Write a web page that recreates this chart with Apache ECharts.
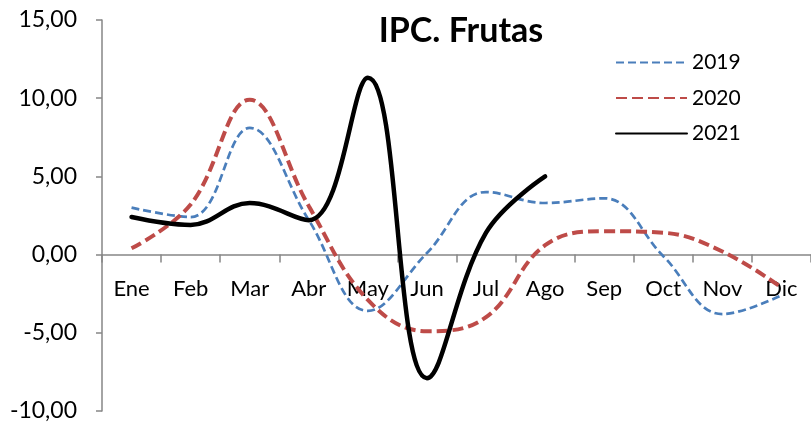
<!DOCTYPE html>
<html>
<head>
<meta charset="utf-8">
<script src="https://cdn.jsdelivr.net/npm/echarts@6/dist/echarts.min.js"></script>
<style>
  html, body { margin: 0; padding: 0; background: #fff; }
  #chart { width: 811px; height: 422px; }
</style>
</head>
<body>
<div id="chart"></div>
<script>
// datos
const meses = ['Ene', 'Feb', 'Mar', 'Abr', 'May', 'Jun', 'Jul', 'Ago', 'Sep', 'Oct', 'Nov', 'Dic'];
const ipc2019 = [3.0, 2.4, 8.1, 2.2, -3.6, 0.1, 4.0, 3.3, 3.6, -0.1, -3.8, -2.6];
const ipc2020 = [0.4, 3.2, 9.9, 3.1, -2.9, -4.9, -4.0, 0.6, 1.5, 1.4, 0.2, -2.1];
const ipc2021 = [2.4, 1.9, 3.3, 2.2, 11.3, -7.9, 1.4, 5.0];
const yTicks = [-10, -5, 0, 5, 10, 15];

const fontFamily = 'Lato, "Open Sans", sans-serif';
const axisGray = '#868686';

const gridTop = 20;
const gridBottom = 11;
const plotHeight = 422 - gridTop - gridBottom;
// el eje x va sobre el cero: se desplaza desde el borde inferior
const yMin = yTicks[0];
const yMax = yTicks[yTicks.length - 1];
const zeroOffset = -plotHeight * (0 - yMin) / (yMax - yMin);

const chart = echarts.init(document.getElementById('chart'));

chart.setOption({
  backgroundColor: '#fff',
  animation: false,
  textStyle: { fontFamily },
  title: {
    text: 'IPC. Frutas',
    left: 456,
    top: 9,
    textAlign: 'center',
    textStyle: { fontSize: 34, fontWeight: 'bold', color: '#000', fontFamily },
  },
  legend: {
    orient: 'vertical',
    left: 610,
    top: 47,
    itemWidth: 71,
    itemHeight: 22,
    itemGap: 14.5,
    itemStyle: { opacity: 0 },
    textStyle: { fontSize: 21, color: '#000', fontFamily },
    data: ['2019', '2020', '2021'],
  },
  grid: { left: 102, right: 0, top: gridTop, bottom: gridBottom, containLabel: false, outerBoundsMode: 'none' },
  xAxis: {
    type: 'category',
    data: meses,
    boundaryGap: true,
    position: 'bottom',
    offset: zeroOffset,
    axisLine: { onZero: false, lineStyle: { color: axisGray, width: 1.5 } },
    axisTick: { show: true, length: 8, inside: false, lineStyle: { color: axisGray, width: 1.5 } },
    axisLabel: { color: '#000', fontSize: 22, margin: 23, fontFamily },
    splitLine: { show: false },
  },
  yAxis: {
    type: 'value',
    min: yMin,
    max: yMax,
    interval: 5,
    axisLine: { show: true, lineStyle: { color: axisGray, width: 1.5 } },
    axisTick: { show: true, length: 6, lineStyle: { color: axisGray, width: 1.5 } },
    axisLabel: {
      color: '#000',
      fontSize: 23,
      margin: 25,
      fontFamily,
      formatter: (v) => v.toFixed(2).replace('.', ','),
    },
    splitLine: { show: false },
  },
  series: [
    {
      name: '2019',
      type: 'line',
      smooth: 0.4,
      symbol: 'none',
      lineStyle: { color: '#4a7ebb', width: 2.7, type: [8, 4] },
      itemStyle: { color: '#4a7ebb' },
      data: ipc2019,
      z: 2,
    },
    {
      name: '2020',
      type: 'line',
      smooth: 0.4,
      symbol: 'none',
      lineStyle: { color: '#be4b48', width: 4, type: [11, 5] },
      itemStyle: { color: '#be4b48' },
      data: ipc2020,
      z: 3,
    },
    {
      name: '2021',
      type: 'line',
      smooth: 0.4,
      symbol: 'none',
      lineStyle: { color: '#000', width: 4.5, cap: 'round' },
      itemStyle: { color: '#000' },
      data: ipc2021,
      z: 4,
    },
  ],
});
</script>
</body>
</html>
